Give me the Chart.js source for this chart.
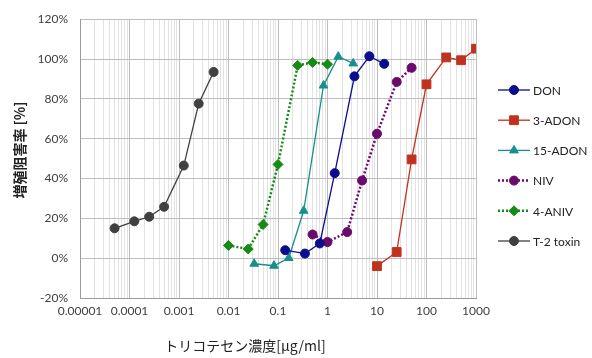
<!DOCTYPE html>
<html>
<head>
<meta charset="utf-8">
<script src="https://cdn.jsdelivr.net/npm/chart.js@4/dist/chart.umd.min.js"></script>
<style>
  html, body { margin: 0; padding: 0; background: #fff; }
  #wrap { width: 592px; height: 358px; }
</style>
</head>
<body>
<div id="wrap"><canvas id="chart" width="592" height="358"></canvas></div>
<script>
// values (x in μg/ml, y in %)
const donX = [0.14, 0.35, 0.7, 1.4, 3.5, 7, 14];
const donY = [4.0, 2.3, 7.4, 42.7, 91.3, 101.4, 97.6];
const adon3X = [10, 25, 50, 100, 250, 500, 1000];
const adon3Y = [-4.0, 3.1, 49.6, 87.3, 100.8, 99.4, 105.2];
const adon15X = [0.033, 0.083, 0.165, 0.33, 0.83, 1.65, 3.3];
const adon15Y = [-2.8, -3.8, 0.1, 23.8, 86.7, 101.2, 97.8];
const nivX = [0.5, 1, 2.5, 5, 10, 25, 50];
const nivY = [11.9, 8.1, 13.1, 39.0, 62.5, 88.5, 95.6];
const anivX = [0.01, 0.025, 0.05, 0.1, 0.25, 0.5, 1];
const anivY = [6.4, 4.6, 16.9, 47.1, 96.8, 98.3, 97.4];
const t2X = [0.00005, 0.000125, 0.00025, 0.0005, 0.00125, 0.0025, 0.005];
const t2Y = [15.0, 18.5, 20.8, 25.8, 46.5, 77.6, 93.5];

const decades = [1e-5, 1e-4, 1e-3, 1e-2, 1e-1, 1, 10, 100, 1000];
const decadeLabels = ['0.00001', '0.0001', '0.001', '0.01', '0.1', '1', '10', '100', '1000'];
const yTicks = [-20, 0, 20, 40, 60, 80, 100, 120];

const xTitle = 'トリコテセン濃度[μg/ml]';
const yTitle = '増殖阻害率 [%]';

const FONT = "Lato, 'Noto Sans CJK JP', sans-serif";
const CJK = "'Noto Sans CJK JP', sans-serif";

const pts = (xs, ys) => xs.map((x, i) => ({ x: x, y: ys[i] }));

const series = [
	{ label: 'DON', xs: donX, ys: donY, color: '#0c0c8e', style: 'circle', r: 4.5, dash: [] },
	{ label: '3-ADON', xs: adon3X, ys: adon3Y, color: '#c0321f', style: 'rect', r: 6.2, dash: [] },
	{ label: '15-ADON', xs: adon15X, ys: adon15Y, color: '#178f8f', style: 'triangle', r: 5, dash: [] },
	{ label: 'NIV', xs: nivX, ys: nivY, color: '#6a0a6a', style: 'circle', r: 4.5, dash: [2, 2] },
	{ label: '4-ANIV', xs: anivX, ys: anivY, color: '#168a16', style: 'rectRot', r: 5, dash: [2, 2] },
	{ label: 'T-2 toxin', xs: t2X, ys: t2Y, color: '#404040', style: 'circle', r: 4.5, dash: [] },
];

const datasets = series.map((s) => ({
	label: s.label,
	data: pts(s.xs, s.ys),
	borderColor: s.color,
	backgroundColor: s.color,
	pointStyle: s.style,
	pointRadius: s.r,
	pointBorderWidth: 1,
	borderWidth: s.dash.length ? 2.5 : 1.3,
	borderDash: s.dash,
	tension: 0,
}));

// legend with line + marker, and the two axis titles
const extras = {
	id: 'extras',
	afterDraw(chart) {
		const ctx = chart.ctx;
		ctx.save();
		series.forEach((s, i) => {
			const y = 90 + i * 30.2;
			ctx.strokeStyle = s.color;
			ctx.lineWidth = s.dash.length ? 2.5 : 1.3;
			ctx.setLineDash(s.dash);
			ctx.beginPath();
			ctx.moveTo(498, y);
			ctx.lineTo(530, y);
			ctx.stroke();
			ctx.setLineDash([]);
			ctx.fillStyle = s.color;
			ctx.lineWidth = 1;
			Chart.helpers.drawPoint(ctx, { pointStyle: s.style, radius: s.r, rotation: 0, borderWidth: 1 }, 514, y);
			ctx.fillStyle = '#222';
			ctx.font = '12px ' + FONT;
			ctx.textAlign = 'left';
			ctx.textBaseline = 'middle';
			ctx.fillText(s.label, 533, y + 1);
		});

		ctx.fillStyle = '#222';
		ctx.font = '14px ' + CJK;
		ctx.textAlign = 'center';
		ctx.textBaseline = 'middle';
		ctx.fillText(xTitle, 245, 346);

		ctx.translate(20, 150);
		ctx.rotate(-Math.PI / 2);
		ctx.font = 'bold 14px ' + CJK;
		ctx.fillText(yTitle, 0, 0);
		ctx.restore();
	},
};

new Chart(document.getElementById('chart'), {
	type: 'line',
	data: { datasets: datasets },
	options: {
		responsive: false,
		animation: false,
		layout: { padding: { left: 0, right: 116, top: 16, bottom: 0 } },
		plugins: {
			legend: { display: false },
			tooltip: { enabled: false },
		},
		scales: {
			x: {
				type: 'logarithmic',
				min: 1e-5,
				max: 1000,
				afterFit: (scale) => { scale.height = 60; },
				afterBuildTicks: (scale) => {
					const t = [];
					decades.forEach((d, i) => {
						for (let m = 1; m <= 9; m++) {
							if (i === decades.length - 1 && m > 1) break;
							t.push({ value: d * m, major: m === 1 });
						}
					});
					scale.ticks = t;
				},
				ticks: {
					autoSkip: false,
					maxRotation: 0,
					padding: 6,
					color: '#404040',
					font: { family: FONT, size: 12 },
					callback: (v, i, ticks) => {
						if (!ticks[i].major) return '';
						const k = decades.findIndex((d) => Math.abs(d - v) / d < 1e-6);
						return k >= 0 ? decadeLabels[k] : '';
					},
				},
				grid: {
					drawTicks: false,
					color: (c) => (c.tick && c.tick.major ? '#bdbdbd' : '#e2e2e2'),
					lineWidth: 1,
				},
				border: { color: '#9a9a9a' },
			},
			y: {
				min: -20,
				max: 120,
				afterFit: (scale) => { scale.width = 80; },
				afterBuildTicks: (scale) => {
					scale.ticks = yTicks.map((v) => ({ value: v }));
				},
				ticks: {
					padding: 12,
					color: '#404040',
					font: { family: FONT, size: 12 },
					callback: (v) => v + '%',
				},
				grid: { drawTicks: false, color: '#bdbdbd' },
				border: { color: '#9a9a9a' },
			},
		},
	},
	plugins: [extras],
});
</script>
</body>
</html>
